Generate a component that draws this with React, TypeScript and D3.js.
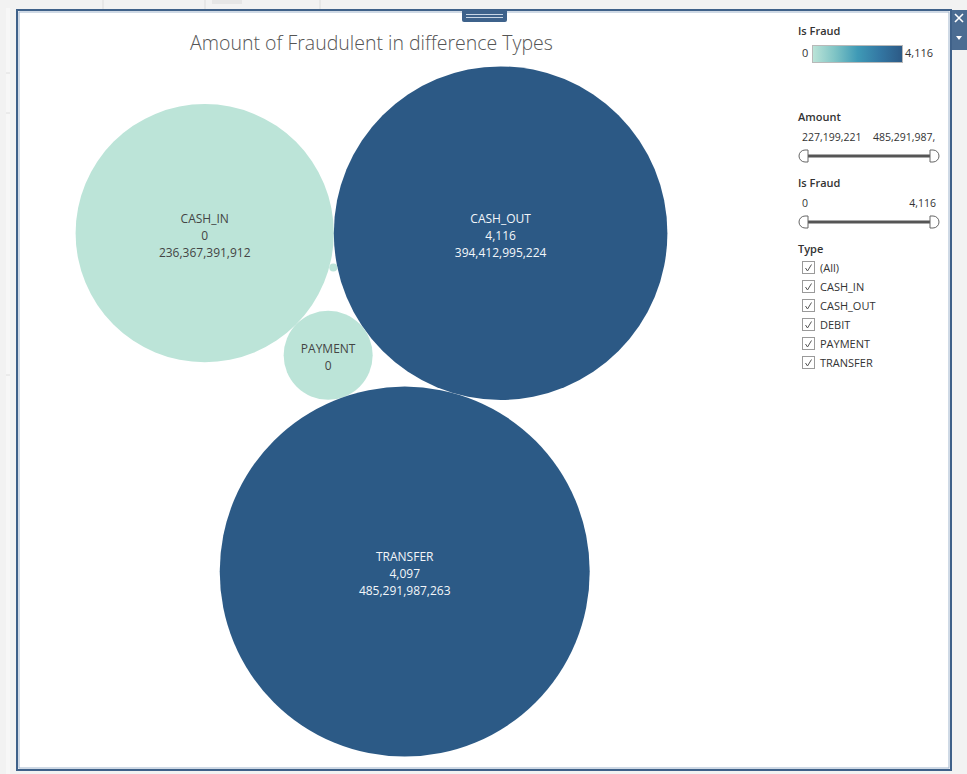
import React from "react";
import * as d3 from "d3";

// ---- data ----
const types = ["CASH_IN", "CASH_OUT", "DEBIT", "PAYMENT", "TRANSFER"];
const amounts = [236367391912, 394412995224, 227199221, 28093371138, 485291987263];
const fraudCounts = [0, 4116, 0, 0, 4097];
const filterTypes = ["(All)", "CASH_IN", "CASH_OUT", "DEBIT", "PAYMENT", "TRANSFER"];
const amountRangeLabels = ["227,199,221", "485,291,987,"];
const fraudRangeLabels = ["0", "4,116"];

const W = 967;
const H = 774;
const FONT = "'Open Sans', 'Noto Sans', sans-serif";

type Node = { name: string; amount: number; fraud: number; r: number; x: number; y: number };

function tangentTo(a: Node, b: Node, r: number, side: number) {
  const dA = a.r + r;
  const dB = b.r + r;
  const dx = b.x - a.x;
  const dy = b.y - a.y;
  const d = Math.hypot(dx, dy);
  const ux = dx / d;
  const uy = dy / d;
  const along = (dA * dA - dB * dB + d * d) / (2 * d);
  const h = Math.sqrt(Math.max(0, dA * dA - along * along));
  const px = -uy;
  const py = ux;
  return { x: a.x + along * ux + side * h * px, y: a.y + along * uy + side * h * py };
}

function layout(): Node[] {
  const maxAmt = d3.max(amounts) as number;
  const rScale = d3.scaleSqrt().domain([0, maxAmt]).range([0, 185]);
  const nodes: Node[] = types.map((t, i) => ({
    name: t,
    amount: amounts[i],
    fraud: fraudCounts[i],
    r: rScale(amounts[i]),
    x: 0,
    y: 0,
  }));
  const by = (n: string) => nodes.find((d) => d.name === n)!;
  const co = by("CASH_OUT");
  const ci = by("CASH_IN");
  const pay = by("PAYMENT");
  const deb = by("DEBIT");
  const tr = by("TRANSFER");
  co.x = 0;
  co.y = 0;
  ci.x = -(co.r + ci.r);
  ci.y = 0;
  Object.assign(pay, tangentTo(ci, co, pay.r, 1));
  Object.assign(deb, tangentTo(ci, co, deb.r, 1));
  Object.assign(tr, tangentTo(co, pay, tr.r, -1));
  // center bounding box in plot area
  const x0 = d3.min(nodes, (d) => d.x - d.r)!;
  const x1 = d3.max(nodes, (d) => d.x + d.r)!;
  const y0 = d3.min(nodes, (d) => d.y - d.r)!;
  const y1 = d3.max(nodes, (d) => d.y + d.r)!;
  const cx = 371.5;
  const cy = 411.5;
  const ox = cx - (x0 + x1) / 2;
  const oy = cy - (y0 + y1) / 2;
  nodes.forEach((d) => {
    d.x += ox;
    d.y += oy;
  });
  return nodes;
}

const colorStops = ["#bce4d8", "#7fc4c5", "#3f9ab6", "#3377a3", "#2c5985"];
const interp = d3.piecewise(d3.interpolateRgb, colorStops);
const maxFraud = d3.max(fraudCounts) as number;
const color = d3.scaleSequential(interp).domain([0, maxFraud]);
const fmt = d3.format(",");

function textWidth(s: string, size: number) {
  // approximate advance widths
  let w = 0;
  for (const ch of s) {
    if (ch === ",") w += 0.26;
    else if (/[0-9]/.test(ch)) w += 0.572;
    else if (ch === "I") w += 0.28;
    else w += 0.65;
  }
  return w * size;
}

function Slider({ y, labels }: { y: number; labels: string[] }) {
  const xl = 803;
  const xr = 935;
  return (
    <g>
      <text x={802} y={y - 15} fontSize={10.5} fill="#333" fontFamily={FONT}>
        {labels[0]}
      </text>
      <text
        x={labels[1].length > 6 ? 873 : 936}
        y={y - 15}
        fontSize={10.5}
        fill="#333"
        fontFamily={FONT}
        textAnchor={labels[1].length > 6 ? "start" : "end"}
      >
        {labels[1]}
      </text>
      <line x1={xl + 3} x2={xr - 3} y1={y} y2={y} stroke="#555" strokeWidth={3} />
      <path
        d={`M${xl + 5},${y - 6} L${xl + 2},${y - 6} A6,6 0 0 0 ${xl + 2},${y + 6} L${xl + 5},${y + 6} Z`}
        fill="#fff"
        stroke="#666"
        strokeWidth={1}
      />
      <path
        d={`M${xr - 5},${y - 6} L${xr - 2},${y - 6} A6,6 0 0 1 ${xr - 2},${y + 6} L${xr - 5},${y + 6} Z`}
        fill="#fff"
        stroke="#666"
        strokeWidth={1}
      />
    </g>
  );
}

export default function App() {
  const nodes = layout();
  const lineH = 17;
  return (
    <svg
      width={W}
      height={H}
      style={{ position: "absolute", left: 0, top: 0, display: "block" }}
      fontFamily={FONT}
    >
      <defs>
        <linearGradient id="legGrad" x1="0" x2="1" y1="0" y2="0">
          {colorStops.map((c, i) => (
            <stop key={i} offset={i / (colorStops.length - 1)} stopColor={c} />
          ))}
        </linearGradient>
        <clipPath id="plotClip">
          <rect x={19} y={12} width={930} height={756} />
        </clipPath>
      </defs>
      {/* page background */}
      <rect x={0} y={0} width={W} height={H} fill="#f2f2f2" />
      <rect x={6} y={8} width={4} height={H} fill="#f7f7f7" />
      {[73, 113, 375].map((yy) => (
        <line key={yy} x1={6} x2={10} y1={yy} y2={yy} stroke="#dedede" />
      ))}
      {[103, 205, 320].map((xx) => (
        <line key={xx} x1={xx} x2={xx} y1={0} y2={9} stroke="#dcdcdc" />
      ))}
      <rect x={212} y={0} width={30} height={4} fill="#e6e6e6" />
      {/* main frame */}
      <rect x={17} y={10} width={934} height={760} fill="#fff" stroke="#3f6189" strokeWidth={2} />
      <rect x={19} y={12} width={930} height={756} fill="none" stroke="#9fb4cc" strokeWidth={1} />
      {/* right tab */}
      <rect x={952} y={10} width={15} height={40} fill="#4b6c92" />
      <path d="M955,14 L963,22 M963,14 L955,22" stroke="#fff" strokeWidth={1.6} />
      <path d="M956,36 L962,36 L959,40 Z" fill="#fff" />
      {/* handle */}
      <path d="M462,10 L507,10 L507,20 Q507,22 505,22 L464,22 Q462,22 462,20 Z" fill="#3e628b" />
      <line x1={466} x2={503} y1={14.5} y2={14.5} stroke="#c9d6e5" strokeWidth={1} />
      <line x1={466} x2={503} y1={17.5} y2={17.5} stroke="#c9d6e5" strokeWidth={1} />
      {/* title */}
      <text x={371.5} y={49.5} textAnchor="middle" fontSize={19.5} fontWeight={300} fill="#555">
        Amount of Fraudulent in difference Types
      </text>
      {/* bubbles */}
      <g clipPath="url(#plotClip)">
        {nodes.map((d) => (
          <circle key={d.name} cx={d.x} cy={d.y} r={d.r} fill={color(d.fraud)} />
        ))}
        {nodes.map((d) => {
          const all = [d.name, fmt(d.fraud), fmt(d.amount)];
          const lines: string[] = [];
          for (const s of all) {
            if (textWidth(s, 12) < 2 * d.r - 6 && (lines.length + 1) * lineH < 2 * d.r - 10) lines.push(s);
            else break;
          }
          const fill = d.fraud > maxFraud / 2 ? "#f3f6f9" : "#444";
          return (
            <g key={d.name + "-l"}>
              {lines.map((s, i) => (
                <text
                  key={i}
                  x={d.x}
                  y={d.y + (i - (lines.length - 1) / 2) * lineH + 2}
                  textAnchor="middle"
                  dominantBaseline="central"
                  fontSize={12}
                  fill={fill}
                >
                  {s}
                </text>
              ))}
            </g>
          );
        })}
      </g>
      {/* legend: color */}
      <text x={798} y={35} fontSize={11} fontWeight={600} fill="#333">
        Is Fraud
      </text>
      <text x={802} y={57} fontSize={11} fill="#333">
        {fmt(0)}
      </text>
      <rect x={812.5} y={45.5} width={90} height={17} fill="url(#legGrad)" stroke="#b9b9b9" />
      <text x={905} y={57} fontSize={11} fill="#333">
        {fmt(maxFraud)}
      </text>
      {/* amount filter */}
      <text x={798} y={121} fontSize={11} fontWeight={600} fill="#333">
        Amount
      </text>
      <Slider y={156} labels={amountRangeLabels} />
      <text x={798} y={187} fontSize={11} fontWeight={600} fill="#333">
        Is Fraud
      </text>
      <Slider y={222} labels={fraudRangeLabels} />
      {/* type filter */}
      <text x={798} y={253} fontSize={11} fontWeight={600} fill="#333">
        Type
      </text>
      {filterTypes.map((t, i) => {
        const yy = 268 + i * 19;
        return (
          <g key={t}>
            <rect x={802.5} y={yy - 6.5} width={12} height={12} fill="#fff" stroke="#9a9a9a" />
            <path
              d={`M${805.5},${yy} L${807.5},${yy + 3} L${811.5},${yy - 3.5}`}
              fill="none"
              stroke="#555"
              strokeWidth={1}
            />
            <text x={820} y={yy + 4} fontSize={11} fill="#333">
              {t}
            </text>
          </g>
        );
      })}
    </svg>
  );
}
